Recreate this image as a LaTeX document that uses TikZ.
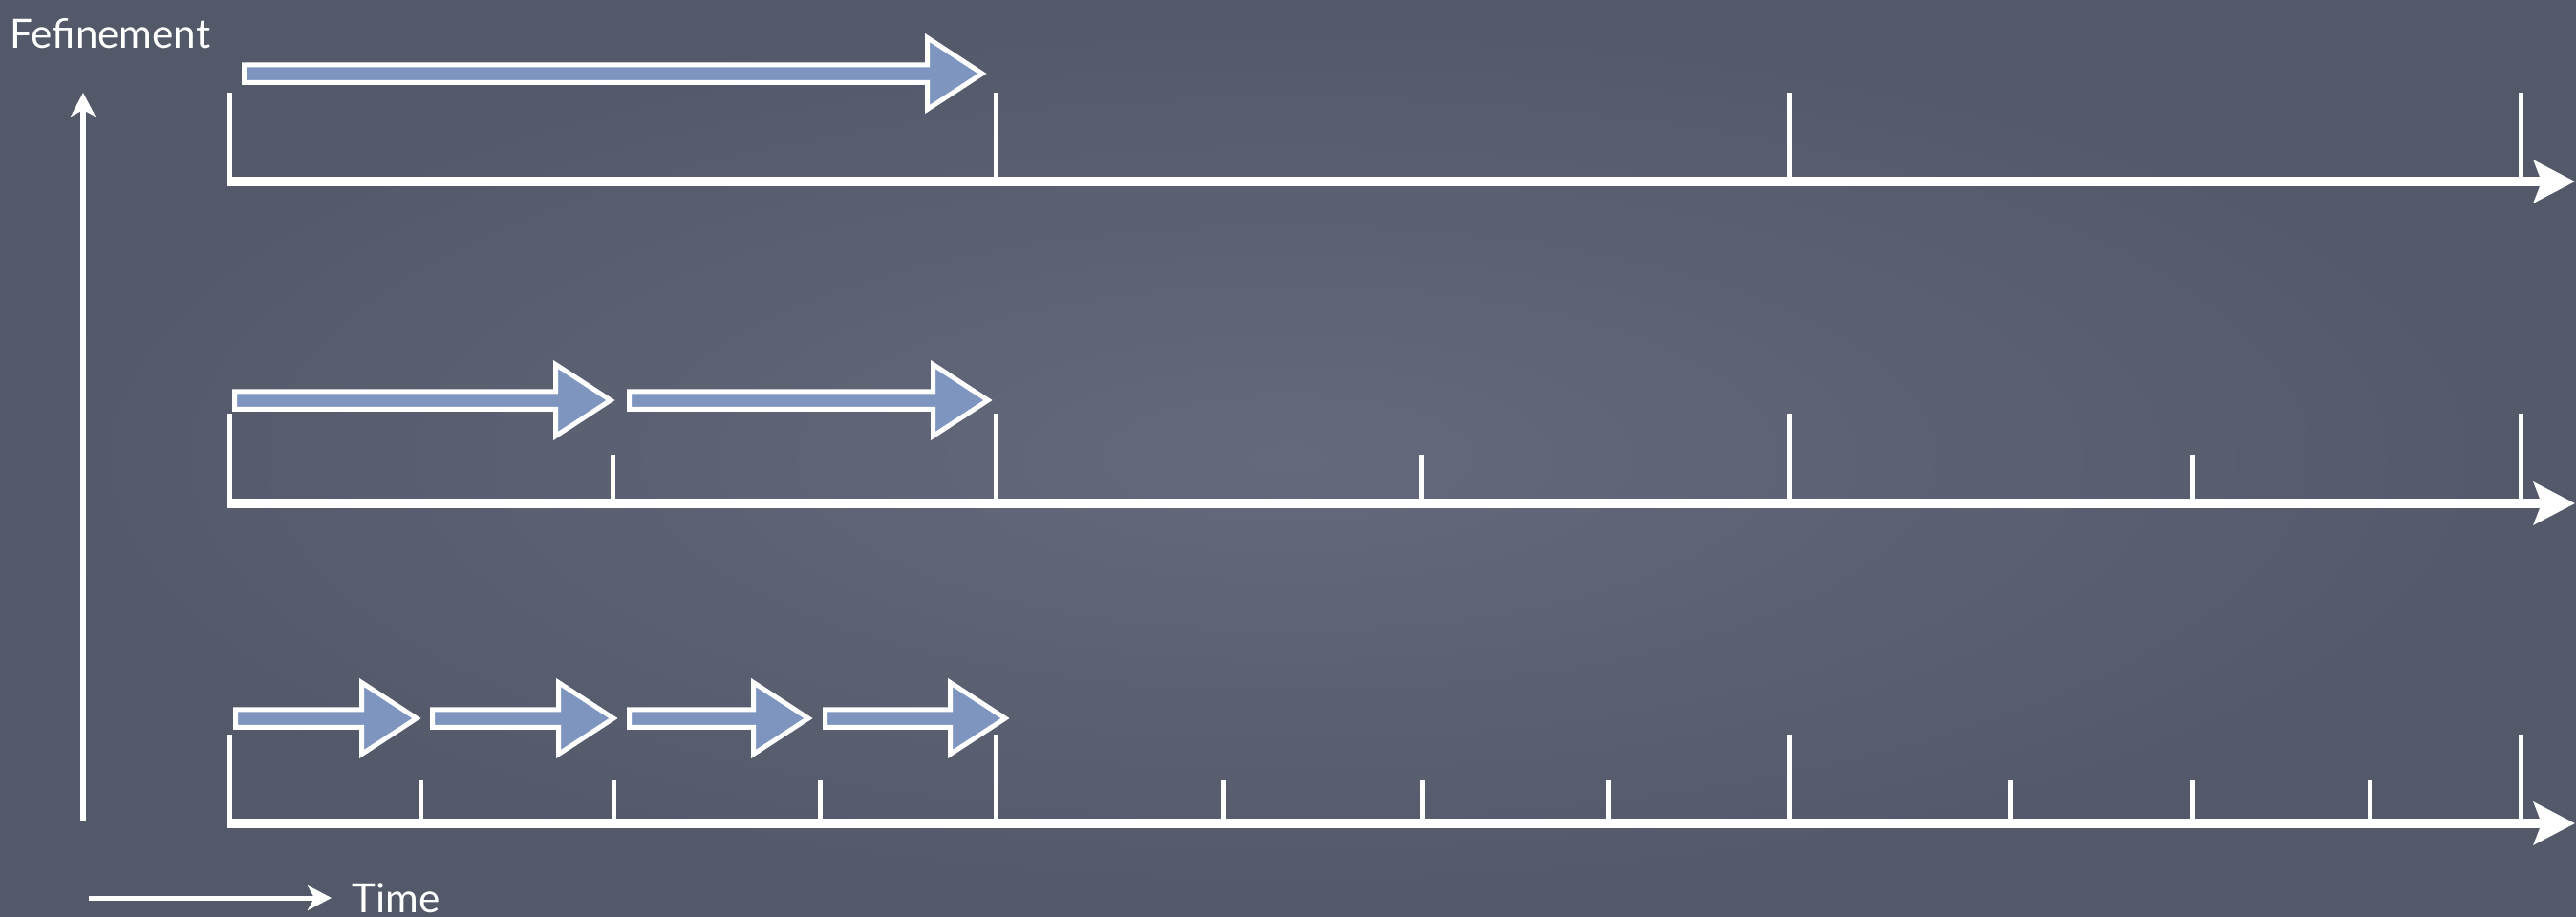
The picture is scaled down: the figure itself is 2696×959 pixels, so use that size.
\documentclass[tikz,border=0pt]{standalone}
\usepackage{fontspec}
\setmainfont{Lato}
\usepackage{xcolor}
\usepackage{tikz}
\usetikzlibrary{arrows.meta,calc}

\definecolor{board}{HTML}{535969}
\definecolor{boardlight}{HTML}{646A7B}
\definecolor{stageblue}{HTML}{7E96BF}

\tikzset{
  timeaxis/.style={white,line width=1mm,-{Stealth[length=4.3mm,width=4.4mm,inset=0.8mm]}},
  thinaxis/.style={white,line width=0.5mm,-{Stealth[length=2.5mm,width=2.6mm,inset=0.7mm]}},
  bigtick/.style={white,line width=0.5mm},
  smalltick/.style={white,line width=0.5mm},
  stagefill/.style={draw=white,fill=stageblue,line width=0.5mm},
  boardtext/.style={white,inner sep=0pt,font=\fontsize{12}{14}\selectfont}
}

% block arrow: tail x, tip x, middle y
\newcommand{\stagearrow}[3]{%
  \draw[stagefill] (#1+2.5,#3-9.25) -- (#2-62.5,#3-9.25) -- (#2-62.5,#3-37.5)
    -- (#2-5,#3) -- (#2-62.5,#3+37.5) -- (#2-62.5,#3+9.25) -- (#1+2.5,#3+9.25) -- cycle;}

\begin{document}
\begin{tikzpicture}[x=0.01cm,y=-0.01cm]
    \useasboundingbox (0,0) rectangle (2696,959);
    \shade[inner color=boardlight,outer color=board] (0,0) rectangle (2696,959);

    \node[boardtext,anchor=base west] (fefine) at (10,50) {Fefinement};
    \node[boardtext,anchor=base west] (time) at (368,955) {Time};

    \coordinate (rbottom) at (87,860);
    \coordinate (rtop) at (87,97);
    \coordinate (tstart) at (93,940);
    \draw[thinaxis] (rbottom) -- (rtop);
    \draw[thinaxis,shorten >=2.1mm] (tstart) -- (tstart -| time.west);

    % coarse
    \draw[timeaxis] (237.5,190) -- (2695,190);
    \foreach \x in {240,1042,1872,2638} \draw[bigtick] (\x,190) -- ++(0,-93);
    \stagearrow{253}{1033}{77}

    % halved
    \draw[timeaxis] (237.5,527) -- (2695,527);
    \foreach \x in {240,1042,1872,2638} \draw[bigtick] (\x,527) -- ++(0,-94);
    \foreach \x in {641,1487,2294} \draw[smalltick] (\x,527) -- ++(0,-51);
    \stagearrow{243}{644}{419}
    \stagearrow{656}{1039}{419}

    % quartered
    \draw[timeaxis] (237.5,862) -- (2695,862);
    \foreach \x in {240,1042,1872,2638} \draw[bigtick] (\x,862) -- ++(0,-93);
    \foreach \x in {440,642,858,1280,1488,1683,2104,2294,2480} \draw[smalltick] (\x,862) -- ++(0,-45);
    \stagearrow{244}{441}{752}
    \stagearrow{450}{647}{752}
    \stagearrow{656}{851}{752}
    \stagearrow{861}{1057}{752}
\end{tikzpicture}
\end{document}
